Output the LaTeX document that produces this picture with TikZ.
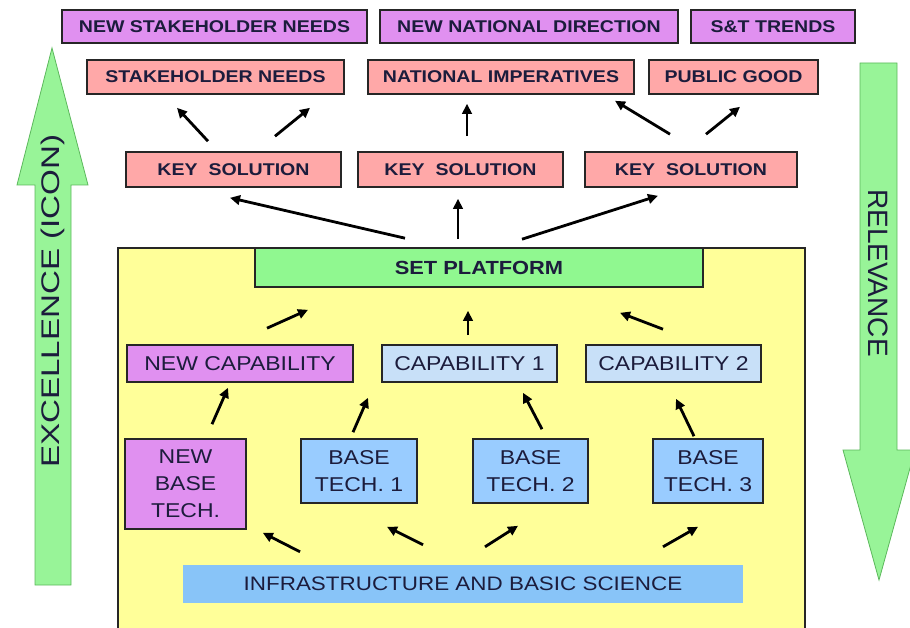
\documentclass[tikz,border=0pt]{standalone}
\usepackage{fontspec}
\setmainfont{Liberation Sans}
\newfontfamily\boxfont[FakeStretch=1.15]{Liberation Sans}
\newfontfamily\longfont[FakeStretch=1.3]{Liberation Sans}
\usetikzlibrary{arrows.meta, positioning, calc}
\definecolor{needPurple}{HTML}{E090F0}
\definecolor{goalPink}{HTML}{FFA8A8}
\definecolor{platGreen}{HTML}{90F890}
\definecolor{arrowGreen}{HTML}{98F498}
\definecolor{arrowEdge}{HTML}{5CB85C}
\definecolor{zoneYellow}{HTML}{FFFF99}
\definecolor{capBlue}{HTML}{C8E0F8}
\definecolor{techBlue}{HTML}{99CCFF}
\definecolor{infraBlue}{HTML}{88C4F8}
\definecolor{inkNavy}{HTML}{1C1C3C}

\begin{document}
\begin{tikzpicture}[
        x=1pt, y=-1pt,
        box/.style={rectangle, draw=black!85, line width=1.6pt, inner sep=0pt, align=center, text=inkNavy},
        needbox/.style={box, fill=needPurple, minimum height=33, font=\boxfont\bfseries\fontsize{17}{20}\selectfont},
        goalbox/.style={box, fill=goalPink, minimum height=34, font=\boxfont\bfseries\fontsize{17}{20}\selectfont},
        capbox/.style={box, fill=capBlue, minimum height=37, font=\boxfont\fontsize{20}{24}\selectfont},
        techbox/.style={box, fill=techBlue, minimum height=64, font=\boxfont\fontsize{20}{27}\selectfont},
        link/.style={-{Triangle[length=10pt,width=9.5pt]}, line width=2.8pt, black},
        bigarrow/.style={fill=arrowGreen, draw=arrowEdge, line width=0.8pt}
    ]
        \useasboundingbox (0,0) rectangle (910,628);

        % Big side arrows
        \draw[bigarrow] (35,585) -- (35,185) -- (17,185) -- (52,48) -- (88,185) -- (71,185) -- (71,585) -- cycle;
        \draw[bigarrow] (860,63) -- (860,450) -- (843,450) -- (879,580) -- (915,450) -- (897,450) -- (897,63) -- cycle;
        \node[rotate=90, text=inkNavy, font=\longfont\fontsize{25.5}{30}\selectfont] (excel) at (53,301) {EXCELLENCE (ICON)};
        \node[rotate=-90, text=inkNavy, font=\fontsize{28}{32}\selectfont] (relev) at (878,273) {RELEVANCE};

        % New drivers and goals
        \node[needbox, minimum width=305] (nsn) at (214.5,26.5) {NEW STAKEHOLDER NEEDS};
        \node[needbox, minimum width=298] (nnd) at (529,26.5) {NEW NATIONAL DIRECTION};
        \node[needbox, minimum width=164] (snt) at (773,26.5) {S\&T TRENDS};
        \node[goalbox, minimum width=257] (sn) at (215.5,77) {STAKEHOLDER NEEDS};
        \node[goalbox, minimum width=266] (ni) at (501,77) {NATIONAL IMPERATIVES};
        \node[goalbox, minimum width=169] (pg) at (733.5,77) {PUBLIC GOOD};

        % Key solutions
        \node[goalbox, minimum width=215, minimum height=35] (ks1) at (233.5,169.5) {KEY\ \ SOLUTION};
        \node[goalbox, minimum width=205, minimum height=35] (ks2) at (460.5,169.5) {KEY\ \ SOLUTION};
        \node[goalbox, minimum width=212, minimum height=35] (ks3) at (691,169.5) {KEY\ \ SOLUTION};

        % SET zone
        \draw[fill=zoneYellow, draw=black!85, line width=1.6pt] (118,248) rectangle (805,629);
        \node[box, fill=platGreen, minimum width=448, minimum height=39, font=\boxfont\bfseries\fontsize{19}{22}\selectfont] (plat) at (479,267.5) {SET PLATFORM};
        \node[capbox, fill=needPurple, minimum width=226] (ncap) at (240,363.5) {NEW CAPABILITY};
        \node[capbox, minimum width=175] (cap1) at (469.5,363.5) {CAPABILITY 1};
        \node[capbox, minimum width=175] (cap2) at (673.5,363.5) {CAPABILITY 2};
        \node[techbox, fill=needPurple, minimum width=121, minimum height=90] (nbt) at (185.5,484) {NEW\\BASE\\TECH.};
        \node[techbox, minimum width=116] (bt1) at (359,471) {BASE\\TECH. 1};
        \node[techbox, minimum width=115] (bt2) at (530.5,471) {BASE\\TECH. 2};
        \node[techbox, minimum width=110] (bt3) at (708,471) {BASE\\TECH. 3};
        \node[rectangle, fill=infraBlue, text=inkNavy, inner sep=0pt, minimum width=560, minimum height=38, font=\boxfont\fontsize{19.5}{23}\selectfont] (infra) at (463,584) {INFRASTRUCTURE AND BASIC SCIENCE};

        % Key solutions to goals
        \draw[link] ([xshift=-25.5pt, yshift=10pt]ks1.north) -- ([xshift=-38.5pt, yshift=-13pt]sn.south);
        \draw[link] ([xshift=41.5pt, yshift=15pt]ks1.north) -- ([xshift=94.5pt, yshift=-13pt]sn.south);
        \draw[link] ([xshift=6.5pt, yshift=15pt]ks2.north) -- ([xshift=-34pt, yshift=-9pt]ni.south);
        \draw[link] ([xshift=-21pt, yshift=17pt]ks3.north) -- ([xshift=114pt, yshift=-6pt]ni.south);
        \draw[link] ([xshift=15pt, yshift=17pt]ks3.north) -- ([xshift=6.5pt, yshift=-12pt]pg.south);

        % Platform to key solutions
        \draw[link] ([xshift=-74pt, yshift=9pt]plat.north) -- ([xshift=-3.5pt, yshift=-10pt]ks1.south);
        \draw[link] ([xshift=-21pt, yshift=8pt]plat.north) -- ([xshift=-2.5pt, yshift=-11pt]ks2.south);
        \draw[link] ([xshift=43pt, yshift=8pt]plat.north) -- ([xshift=-33pt, yshift=-8pt]ks3.south);

        % Capabilities to platform
        \draw[link] ([xshift=27pt, yshift=16pt]ncap.north) -- ([xshift=-171pt, yshift=-22pt]plat.south);
        \draw[link] ([xshift=-1.5pt, yshift=9pt]cap1.north) -- ([xshift=-11pt, yshift=-23pt]plat.south);
        \draw[link] ([xshift=-10.5pt, yshift=15pt]cap2.north) -- ([xshift=141pt, yshift=-25pt]plat.south);

        % Base techs to capabilities
        \draw[link] ([xshift=26.5pt, yshift=14pt]nbt.north) -- ([xshift=-12pt, yshift=-5pt]ncap.south);
        \draw[link] ([xshift=-6pt, yshift=6pt]bt1.north) -- ([xshift=-101.5pt, yshift=-15pt]cap1.south);
        \draw[link] ([xshift=11.5pt, yshift=9pt]bt2.north) -- ([xshift=53.5pt, yshift=-10pt]cap1.south);
        \draw[link] ([xshift=-14pt, yshift=2pt]bt3.north) -- ([xshift=2.5pt, yshift=-16pt]cap2.south);

        % Infrastructure to base techs
        \draw[link] ([xshift=-163pt, yshift=13pt]infra.north) -- ([xshift=16pt, yshift=-3pt]nbt.south east);
        \draw[link] ([xshift=-40pt, yshift=20pt]infra.north) -- ([xshift=28pt, yshift=-23pt]bt1.south);
        \draw[link] ([xshift=22pt, yshift=18pt]infra.north) -- ([xshift=-12.5pt, yshift=-22pt]bt2.south);
        \draw[link] ([xshift=200pt, yshift=18pt]infra.north) -- ([xshift=-10pt, yshift=-23pt]bt3.south);
    \end{tikzpicture}
\end{document}
